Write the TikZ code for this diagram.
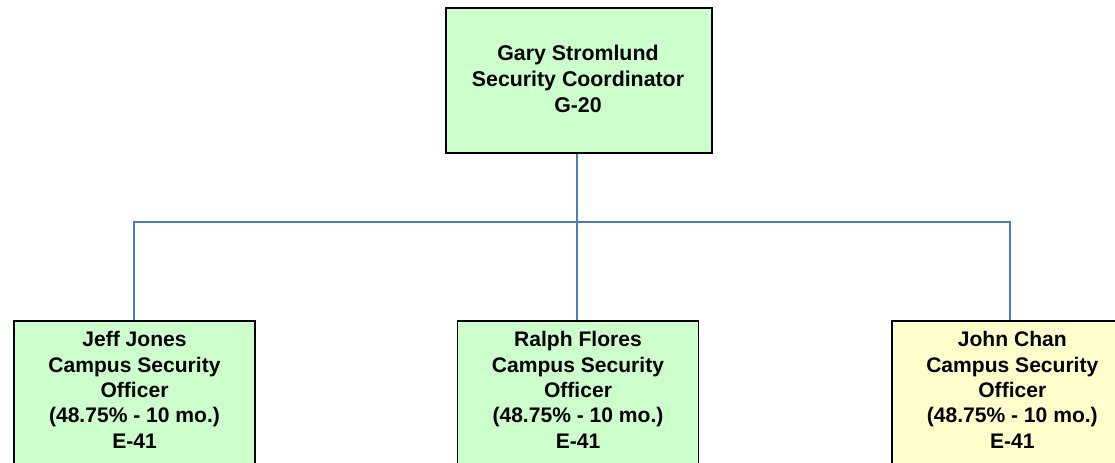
\documentclass[tikz,border=0pt]{standalone}
\usepackage{fontspec}
\setmainfont{Liberation Sans}
\definecolor{boxgreen}{HTML}{CCFFCC}
\definecolor{boxyellow}{HTML}{FFFFCC}
\definecolor{linkblue}{HTML}{4A7EBB}
\begin{document}
\begin{tikzpicture}[x=0.75pt,y=-0.75pt,
  boxstyle/.style={draw=black,line width=1.2pt,inner sep=0pt,minimum width=180.75pt},
  toptext/.style={align=center,font=\bfseries\fontsize{16}{19.5}\selectfont},
  subtext/.style={align=center,font=\bfseries\fontsize{15.8}{19}\selectfont,anchor=north,inner sep=0pt},
  link/.style={draw=linkblue,line width=1pt}]
\useasboundingbox (0,0) rectangle (1115,462);
\clip (0,0) rectangle (1115,462);
% top box
\node[boxstyle,fill=boxgreen,minimum width=199.5pt,minimum height=108.75pt,anchor=north west] (gary) at (445,7) {};
\node[toptext] (garytext) at (578,79) {Gary Stromlund\\Security Coordinator\\G-20};
% bottom boxes
\node[boxstyle,fill=boxgreen,minimum height=150pt,anchor=north] (jeff) at (134.5,320) {};
\node[boxstyle,fill=boxgreen,minimum height=150pt,anchor=north] (ralph) at (578,320) {};
\node[boxstyle,fill=boxyellow,minimum height=150pt,anchor=north west] (john) at (891,320) {};
\node[subtext] (jefftext) at ([yshift=-8.5pt]jeff.north) {Jeff Jones\\Campus Security\\Officer\\(48.75\% - 10 mo.)\\E-41};
\node[subtext] (ralphtext) at ([yshift=-8.5pt]ralph.north) {Ralph Flores\\Campus Security\\Officer\\(48.75\% - 10 mo.)\\E-41};
\node[subtext] (johntext) at ([yshift=-8.5pt]john.north) {John Chan\\Campus Security\\Officer\\(48.75\% - 10 mo.)\\E-41};
% connectors
\coordinate (bus) at (577,222);
\draw[link] (gary.south -| bus) -- (bus);
\draw[link] (jeff.north -| 134,0) |- (bus) -| (ralph.north -| 577,0);
\draw[link] (bus) -| (john.north -| 1010,0);
\end{tikzpicture}
\end{document}
